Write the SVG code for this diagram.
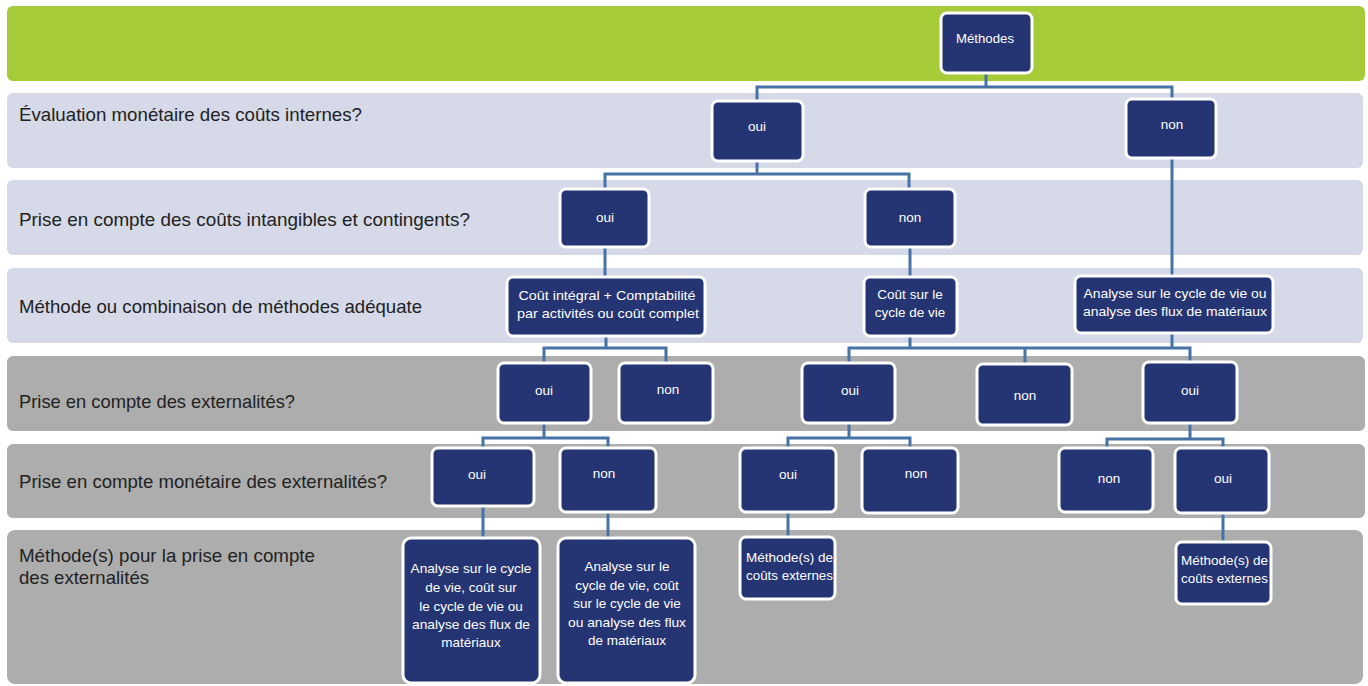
<svg xmlns="http://www.w3.org/2000/svg" width="1368" height="686" viewBox="0 0 1368 686">
<style>
.lab{font-family:"Liberation Sans",Arial,sans-serif;font-size:19px;fill:#222}
.n{fill:#253573;stroke:#fff;stroke-width:3}
.t{font-family:"Liberation Sans",Arial,sans-serif;font-size:13.5px;fill:#fff;text-anchor:middle}
.tl{font-family:"Liberation Sans",Arial,sans-serif;font-size:13.5px;fill:#fff}
.c{fill:none;stroke:#4672a6;stroke-width:3}
</style>
<rect width="1368" height="686" fill="#fff"/>
<g id="bands">
<rect x="7" y="6" width="1358" height="75" rx="6" fill="#a6cb39"/>
<rect x="7" y="93" width="1356" height="75" rx="6" fill="#d5d9e8"/>
<rect x="7" y="180" width="1356" height="75" rx="6" fill="#d5d9e8"/>
<rect x="7" y="268" width="1356" height="75" rx="6" fill="#d5d9e8"/>
<rect x="7" y="356" width="1358" height="75" rx="6" fill="#adadad"/>
<rect x="7" y="444" width="1358" height="74" rx="6" fill="#adadad"/>
<rect x="7" y="530" width="1356" height="154" rx="8" fill="#adadad"/>
</g>
<g id="labels">
<text class="lab" x="19" y="121" textLength="343" lengthAdjust="spacingAndGlyphs">Évaluation monétaire des coûts internes?</text>
<text class="lab" x="19" y="226" textLength="451" lengthAdjust="spacingAndGlyphs">Prise en compte des coûts intangibles et contingents?</text>
<text class="lab" x="19" y="313" textLength="403" lengthAdjust="spacingAndGlyphs">Méthode ou combinaison de méthodes adéquate</text>
<text class="lab" x="19" y="408" textLength="276" lengthAdjust="spacingAndGlyphs">Prise en compte des externalités?</text>
<text class="lab" x="19" y="488" textLength="368" lengthAdjust="spacingAndGlyphs">Prise en compte monétaire des externalités?</text>
<text class="lab" x="19" y="562" textLength="296" lengthAdjust="spacingAndGlyphs">Méthode(s) pour la prise en compte</text>
<text class="lab" x="19" y="584" textLength="130" lengthAdjust="spacingAndGlyphs">des externalités</text>
</g>
<g id="connectors">
<path class="c" d="M986 73V87M757 101V87H1172V99"/>
<path class="c" d="M757 161V174M605 189V174H909V189"/>
<path class="c" d="M1172 158V276"/>
<path class="c" d="M605 247V277"/>
<path class="c" d="M910 247V277"/>
<path class="c" d="M606 336V348M544 363V348H666V363"/>
<path class="c" d="M849 363V348H1190V362M910 336V348M1172 333V348M1025 348V364"/>
<path class="c" d="M544 423V438M483 448V438H608V448"/>
<path class="c" d="M849 423V438M788 448V438H910V448"/>
<path class="c" d="M1190 423V439M1107 448V439H1223V448"/>
<path class="c" d="M483 506V538"/>
<path class="c" d="M608 512V538"/>
<path class="c" d="M788 512V537"/>
<path class="c" d="M1223 513V542"/>
</g>
<g id="n-methodes"><rect class="n" x="941" y="13" width="91" height="60" rx="6"/><text class="t" x="985" y="43" textLength="58" lengthAdjust="spacingAndGlyphs">Méthodes</text></g>
<g id="n-oui1"><rect class="n" x="712" y="101" width="91" height="60" rx="6"/><text class="t" x="757" y="131">oui</text></g>
<g id="n-non1"><rect class="n" x="1126" y="99" width="90" height="59" rx="6"/><text class="t" x="1172" y="129">non</text></g>
<g id="n-oui2"><rect class="n" x="560" y="189" width="89" height="58" rx="6"/><text class="t" x="605" y="222">oui</text></g>
<g id="n-non2"><rect class="n" x="865" y="189" width="90" height="58" rx="6"/><text class="t" x="910" y="222">non</text></g>
<g id="n-cout-integral"><rect class="n" x="507" y="277" width="198" height="59" rx="6"/><text class="t" x="607" y="300" textLength="177" lengthAdjust="spacingAndGlyphs">Coût intégral + Comptabilité</text><text class="t" x="608" y="318" textLength="182" lengthAdjust="spacingAndGlyphs">par activités ou coût complet</text></g>
<g id="n-cout-cycle"><rect class="n" x="864" y="277" width="93" height="59" rx="6"/><text class="t" x="910" y="299">Coût sur le</text><text class="t" x="910" y="317">cycle de vie</text></g>
<g id="n-analyse"><rect class="n" x="1075" y="276" width="198" height="57" rx="6"/><text class="t" x="1175" y="298" textLength="183" lengthAdjust="spacingAndGlyphs">Analyse sur le cycle de vie ou</text><text class="t" x="1175" y="316" textLength="184" lengthAdjust="spacingAndGlyphs">analyse des flux de matériaux</text></g>
<g id="n-oui4a"><rect class="n" x="498" y="363" width="93" height="60" rx="6"/><text class="t" x="544" y="395">oui</text></g>
<g id="n-non4a"><rect class="n" x="619" y="363" width="94" height="60" rx="6"/><text class="t" x="668" y="394">non</text></g>
<g id="n-oui4b"><rect class="n" x="802" y="363" width="93" height="60" rx="6"/><text class="t" x="850" y="395">oui</text></g>
<g id="n-non4b"><rect class="n" x="977" y="364" width="95" height="61" rx="6"/><text class="t" x="1025" y="400">non</text></g>
<g id="n-oui4c"><rect class="n" x="1143" y="362" width="94" height="61" rx="6"/><text class="t" x="1190" y="395">oui</text></g>
<g id="n-oui5a"><rect class="n" x="432" y="448" width="102" height="58" rx="6"/><text class="t" x="477" y="479">oui</text></g>
<g id="n-non5a"><rect class="n" x="560" y="448" width="96" height="64" rx="6"/><text class="t" x="604" y="478">non</text></g>
<g id="n-oui5b"><rect class="n" x="740" y="448" width="96" height="64" rx="6"/><text class="t" x="788" y="479">oui</text></g>
<g id="n-non5b"><rect class="n" x="862" y="448" width="96" height="65" rx="6"/><text class="t" x="916" y="478">non</text></g>
<g id="n-non5c"><rect class="n" x="1059" y="448" width="94" height="64" rx="6"/><text class="t" x="1109" y="483">non</text></g>
<g id="n-oui5c"><rect class="n" x="1175" y="448" width="94" height="65" rx="6"/><text class="t" x="1223" y="483">oui</text></g>
<g id="n-analyse-a"><rect class="n" x="403" y="538" width="137" height="145" rx="8"/>
<text class="t" x="471" y="573" textLength="121" lengthAdjust="spacingAndGlyphs">Analyse sur le cycle</text><text class="t" x="471" y="592">de vie, coût sur</text><text class="t" x="471" y="611">le cycle de vie ou</text><text class="t" x="471" y="629" textLength="118" lengthAdjust="spacingAndGlyphs">analyse des flux de</text><text class="t" x="471" y="647">matériaux</text></g>
<g id="n-analyse-b"><rect class="n" x="558" y="538" width="137" height="145" rx="8"/>
<text class="t" x="627" y="571">Analyse sur le</text><text class="t" x="627" y="590">cycle de vie, coût</text><text class="t" x="627" y="608">sur le cycle de vie</text><text class="t" x="627" y="627" textLength="118" lengthAdjust="spacingAndGlyphs">ou analyse des flux</text><text class="t" x="627" y="645">de matériaux</text></g>
<g id="n-externes-a"><rect class="n" x="740" y="537" width="95" height="62" rx="6"/><text class="tl" x="746" y="562" textLength="87" lengthAdjust="spacingAndGlyphs">Méthode(s) de</text><text class="tl" x="746" y="580" textLength="87" lengthAdjust="spacingAndGlyphs">coûts externes</text></g>
<g id="n-externes-b"><rect class="n" x="1176" y="542" width="95" height="62" rx="6"/><text class="tl" x="1181" y="565" textLength="87" lengthAdjust="spacingAndGlyphs">Méthode(s) de</text><text class="tl" x="1181" y="583" textLength="87" lengthAdjust="spacingAndGlyphs">coûts externes</text></g>
</svg>
